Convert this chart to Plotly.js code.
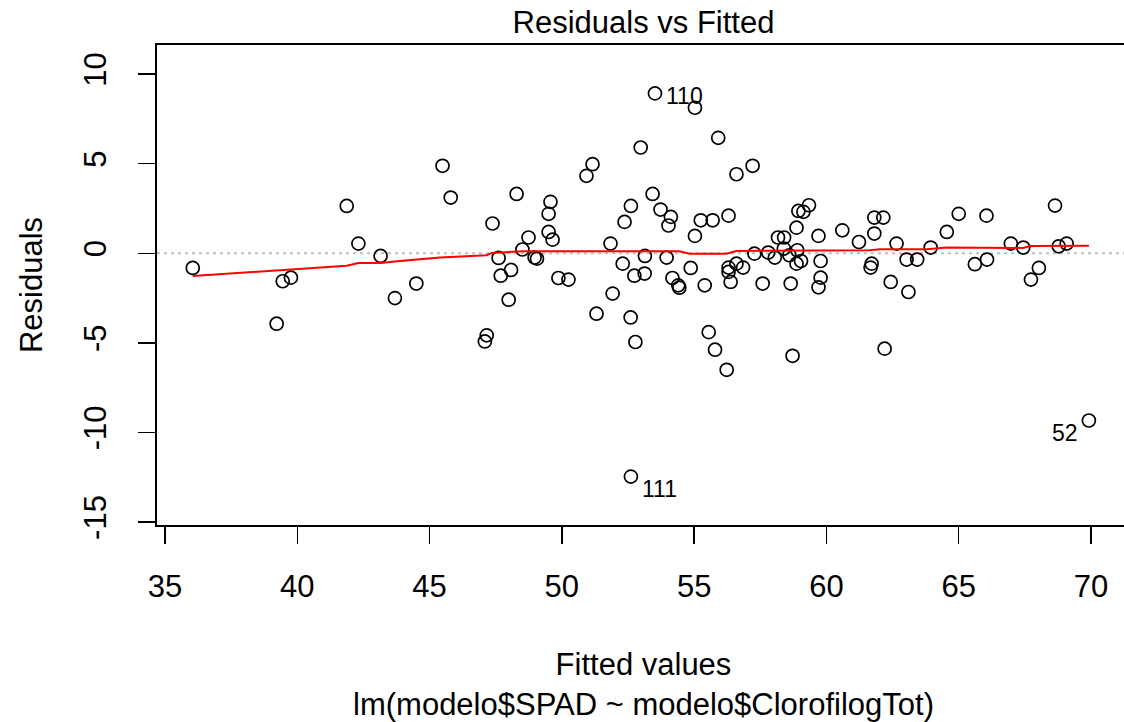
<!DOCTYPE html>
<html>
<head>
<meta charset="utf-8">
<script src="https://cdn.plot.ly/plotly-3.0.1.min.js"></script>
<style>
html,body{margin:0;padding:0;background:#fff;overflow:hidden;}
#chart{width:1130px;height:722px;}
</style>
</head>
<body>
<div id="chart"></div>
<script>
// Fitted values (x) and residuals (y)
const fittedValues = [
  36.05, 39.22, 39.45, 39.76, 41.87, 42.31, 43.15, 43.69, 44.50, 45.49,
  45.80, 47.09, 47.16, 47.38, 47.61, 47.69, 47.99, 48.08, 48.29, 48.51,
  48.74, 48.97, 49.06, 49.50, 49.50, 49.57, 49.65, 49.87, 50.25, 50.93,
  51.16, 51.31, 51.84, 51.92, 52.30, 52.37, 52.60, 52.61, 52.61, 52.74,
  52.78, 52.98, 53.13, 53.14, 53.43, 53.52, 53.73, 53.96, 54.03, 54.12,
  54.18, 54.40, 54.44, 54.87, 55.03, 55.03, 55.25, 55.40, 55.55, 55.70,
  55.79, 55.91, 56.23, 56.30, 56.30, 56.30, 56.38, 56.60, 56.60, 56.85,
  57.21, 57.28, 57.59, 57.80, 58.05, 58.17, 58.39, 58.40, 58.60, 58.65,
  58.72, 58.87, 58.87, 58.90, 58.94, 59.04, 59.13, 59.34, 59.70, 59.70,
  59.78, 59.78, 60.60, 61.23, 61.67, 61.71, 61.81, 61.81, 62.15, 62.20,
  62.43, 62.65, 63.03, 63.10, 63.43, 63.94, 64.55, 65.00, 65.61, 66.05,
  66.07, 66.97, 67.44, 67.73, 68.03, 68.64, 68.78, 69.08, 69.92
];
const residuals = [
  -0.82, -3.93, -1.56, -1.36, 2.64, 0.54, -0.15, -2.50, -1.69, 4.88,
  3.11, -4.92, -4.58, 1.66, -0.26, -1.25, -2.59, -0.93, 3.31, 0.21,
  0.88, -0.24, -0.30, 2.20, 1.19, 2.87, 0.76, -1.38, -1.47, 4.32,
  4.97, -3.37, 0.54, -2.25, -0.58, 1.75, -3.58, 2.64, -12.46, -1.25,
  -4.95, 5.90, -1.13, -0.15, 3.31, 8.92, 2.44, -0.24, 1.55, 2.03,
  -1.38, -1.79, -1.92, -0.82, 8.12, 0.97, 1.84, -1.79, -4.40, 1.84,
  -5.38, 6.44, -6.50, 2.10, -0.80, -1.04, -1.60, -0.58, 4.41, -0.80,
  4.88, -0.02, -1.69, 0.04, -0.24, 0.88, 0.26, 0.88, -0.11, -1.69,
  -5.72, 1.43, -0.58, 0.17, 2.36, -0.43, 2.31, 2.68, 0.97, -1.90,
  -0.43, -1.36, 1.28, 0.63, -0.80, -0.58, 1.10, 1.99, 1.99, -5.32,
  -1.60, 0.54, -0.35, -2.16, -0.35, 0.32, 1.19, 2.20, -0.61, 2.10,
  -0.35, 0.54, 0.32, -1.47, -0.82, 2.66, 0.39, 0.54, -9.33
];
// Smoother (lowess) line
const smoothX = [36.05, 39.47, 41.87, 42.31, 43.15, 43.88, 45.40, 47.16, 47.35, 48.55,
                 52.95, 54.43, 54.84, 56.22, 56.60, 61.64, 62.02, 63.79, 64.54, 66.94,
                 67.44, 67.69, 69.92];
const smoothY = [-1.27, -0.91, -0.69, -0.54, -0.54, -0.43, -0.24, -0.11, 0.02, 0.11,
                 0.11, 0.11, -0.02, -0.02, 0.13, 0.17, 0.22, 0.22, 0.32, 0.32,
                 0.30, 0.40, 0.42];
// Identified observations
const idLabels = ["110", "111", "52"];
const idIndex = [45, 38, 118];
const xTicks = [35, 40, 45, 50, 55, 60, 65, 70];
const yTicks = [-15, -10, -5, 0, 5, 10];

const FONT = "Liberation Sans, Arial, Helvetica, sans-serif";

const traces = [
  {
    x: fittedValues, y: residuals, type: "scatter", mode: "markers",
    marker: {symbol: "circle-open", size: 13, color: "#000", line: {width: 1.7, color: "#000"}},
    hoverinfo: "x+y", showlegend: false
  },
  {
    x: smoothX, y: smoothY, type: "scatter", mode: "lines",
    line: {color: "#ff0000", width: 2}, hoverinfo: "skip", showlegend: false
  }
];

const idShift = [{xa: "left", xs: 9, ys: -3}, {xa: "left", xs: 9, ys: -12}, {xa: "right", xs: -9, ys: -12}];
const annotations = idLabels.map((t, k) => ({
  x: fittedValues[idIndex[k]], y: residuals[idIndex[k]], xref: "x", yref: "y",
  text: t, showarrow: false, xanchor: idShift[k].xa, yanchor: "middle",
  xshift: idShift[k].xs, yshift: idShift[k].ys,
  font: {family: FONT, size: 23, color: "#000"}
}));

const layout = {
  width: 1130, height: 722,
  margin: {l: 157, r: 0, t: 45, b: 197, pad: 0},
  paper_bgcolor: "#fff", plot_bgcolor: "#fff",
  font: {family: FONT, size: 31, color: "#000"},
  title: {text: "Residuals vs Fitted", font: {family: FONT, size: 31, color: "#000"},
          xref: "paper", x: 0.5, xanchor: "center", y: 0.97, yanchor: "middle", yref: "container"},
  xaxis: {
    range: [34.698, 71.474], tickvals: xTicks, ticktext: xTicks.map(String),
    showgrid: false, zeroline: false, showline: true, mirror: true,
    linecolor: "#000", linewidth: 2, ticks: "outside", ticklen: 17, tickwidth: 1.5, tickcolor: "#000",
    tickfont: {family: FONT, size: 31, color: "#000"}, ticklabelstandoff: 16,
    title: {text: "Fitted values<br>lm(modelo$SPAD ~ modelo$ClorofilogTot)", standoff: 51,
            font: {family: FONT, size: 31, color: "#000"}},
    automargin: false, fixedrange: true
  },
  yaxis: {
    range: [-15.16, 11.62], tickvals: yTicks, ticktext: yTicks.map(String), tickangle: -90,
    showgrid: false, zeroline: false, showline: true, mirror: true,
    linecolor: "#000", linewidth: 2, ticks: "outside", ticklen: 17, tickwidth: 1.5, tickcolor: "#000",
    tickfont: {family: FONT, size: 31, color: "#000"}, ticklabelstandoff: 20,
    title: {text: "Residuals", standoff: 26, font: {family: FONT, size: 31, color: "#000"}},
    automargin: false, fixedrange: true
  },
  shapes: [{
    type: "line", xref: "paper", x0: 0, x1: 1, yref: "y", y0: 0, y1: 0,
    line: {color: "#bebebe", width: 2, dash: "3px,4px"}, layer: "below"
  }],
  annotations: annotations,
  showlegend: false
};

Plotly.newPlot("chart", traces, layout, {displayModeBar: false, staticPlot: true});
</script>
</body>
</html>
